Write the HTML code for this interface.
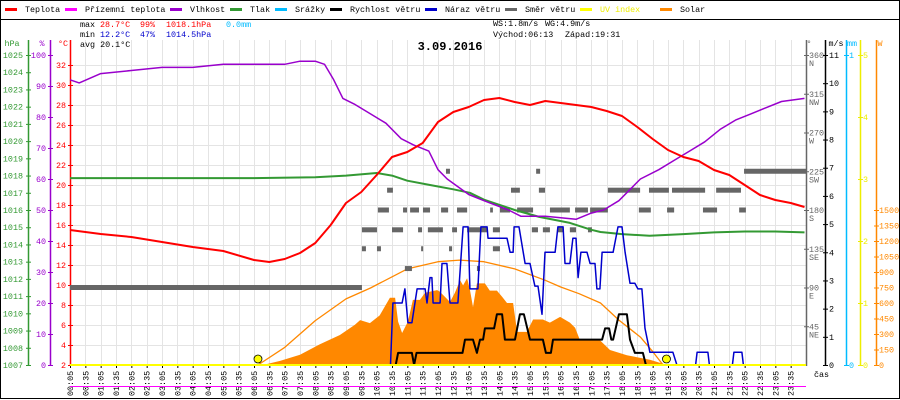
<!DOCTYPE html>
<html><head><meta charset="utf-8"><style>
html,body{margin:0;padding:0;background:#fff;}
svg{display:block;font-family:"Liberation Mono",monospace;font-size:8.4px;}
</style></head><body>
<svg id="chart" width="900" height="400" viewBox="0 0 900 400" xmlns="http://www.w3.org/2000/svg"></svg>
<script>
const tempT=[0,1,2,3,4,5,6,6.5,7,7.5,8,8.5,9,9.5,10,10.5,11,11.5,12,12.5,13,13.5,14,14.5,15,15.5,16,16.5,17,17.5,18,18.5,19,19.5,20,20.5,21,21.5,22,22.5,23,23.5,23.95];
const tempV=[15.5,15.1,14.8,14.3,13.8,13.4,12.5,12.3,12.6,13.2,14.2,16,18.2,19.3,21,22.8,23.3,24.2,26.3,27.3,27.8,28.5,28.7,28.3,28.0,28.4,28.2,28.0,27.8,27.4,26.9,25.8,24.6,23.5,22.8,22.4,21.5,21.0,20.0,19.0,18.5,18.2,17.8];
const humT=[0,0.3,1,2,3,4,5,6,7,7.5,8,8.3,8.6,8.9,9.3,9.8,10.3,10.8,11.2,11.7,12.0,12.3,13.0,13.5,14.3,14.7,15.5,16.5,17,17.4,17.9,18.3,18.6,19.2,19.7,20.2,20.7,21.2,21.7,22.2,22.7,23.2,23.95];
const humV=[92,91,94,95,96,96,97,97,97,98,98,97,92,86,84,81,78,73,71,69,63,60,55,53,50,48,48,47,49,50,53,57,60,63,66,69,72,76,79,81,83,85,86];
const presT=[0,2,4,6,8,9,10,10.5,11,11.74,12.5,13.04,13.5,14,14.5,15.3,16.3,17,17.3,18,18.9,20,21,22,23,23.95];
const presV=[1017.85,1017.85,1017.85,1017.85,1017.9,1018.0,1018.15,1018.0,1017.7,1017.45,1017.2,1017.0,1016.6,1016.3,1016.0,1015.6,1015.25,1014.85,1014.72,1014.6,1014.5,1014.6,1014.7,1014.75,1014.75,1014.7];
const gustPts=[[0,0],[10.45,0],[10.53,2.2],[10.83,2.2],[10.92,2.7],[11.02,1.5],[11.15,1.5],[11.32,2.7],[11.58,2.7],[11.64,2.2],[11.74,3.1],[11.80,3.1],[11.84,2.2],[12.07,2.2],[12.13,3.6],[12.29,3.6],[12.39,2.2],[12.65,2.2],[12.82,4.9],[12.98,4.9],[13.04,2.7],[13.30,2.7],[13.40,4.9],[13.60,4.9],[13.63,4.5],[14.25,4.5],[14.35,4.0],[14.45,4.0],[14.48,4.9],[14.64,4.9],[14.84,3.6],[15.00,3.6],[15.16,2.8],[15.26,2.8],[15.39,1.8],[15.49,4.0],[15.82,4.0],[15.91,4.9],[16.08,4.9],[16.14,3.6],[16.30,3.6],[16.40,4.5],[16.50,4.5],[16.57,3.1],[16.66,4.0],[16.86,4.0],[16.96,3.6],[17.12,3.6],[17.18,2.7],[17.28,2.7],[17.35,4.0],[17.71,4.0],[17.87,4.9],[18.00,4.9],[18.10,4.0],[18.26,2.9],[18.42,2.9],[18.52,2.7],[18.65,2.7],[18.75,1.3],[18.91,0.45],[19.66,0.45],[19.79,0],[20.40,0],[20.45,0.45],[20.80,0.45],[20.85,0],[21.60,0],[21.65,0.45],[21.91,0.45],[21.96,0],[23.92,0]];
const windPts=[[0,0],[10.62,0],[10.70,0.43],[11.15,0.43],[11.22,0],[11.30,0.43],[12.80,0.43],[12.88,0.9],[13.14,0.9],[13.27,0.43],[13.37,0.9],[13.47,0.9],[13.53,1.3],[13.83,1.3],[13.92,1.8],[14.09,1.8],[14.18,0.9],[14.51,0.9],[14.67,1.8],[14.80,1.8],[15.0,0.9],[15.42,0.9],[15.52,0.43],[15.68,0.43],[15.75,0.9],[17.35,0.9],[17.45,1.3],[17.58,1.3],[17.65,0.9],[17.71,0.9],[17.90,1.8],[18.16,1.8],[18.26,0.9],[18.42,0.43],[18.68,0.43],[18.78,0],[23.92,0]];
const solarPts=[[6.29,0],[6.85,40],[7.5,100],[8.15,200],[8.8,290],[9.29,390],[9.46,435],[9.78,405],[10.1,480],[10.43,650],[10.6,650],[10.7,420],[10.83,310],[11.02,420],[11.18,630],[11.41,630],[11.58,700],[11.97,725],[12.06,710],[12.39,610],[12.55,700],[12.72,820],[12.82,770],[12.95,840],[13.04,730],[13.14,560],[13.27,790],[13.53,790],[13.69,720],[13.92,720],[14.09,660],[14.25,600],[14.45,600],[14.58,320],[14.90,320],[15.10,440],[15.42,440],[15.65,410],[15.98,465],[16.30,410],[16.47,360],[16.63,240],[17.28,240],[17.61,145],[18.16,95],[18.91,50],[19.47,0]];
const clearPts=[[6.13,0],[7,170],[8,430],[9,640],[9.8,745],[11,930],[12,1000],[12.7,1015],[13.5,1000],[14.5,930],[15.5,820],[16,755],[16.6,690],[17.3,600],[17.9,435],[18.6,270],[19.0,130],[19.34,0]];
const dirStart=[0,10.04,10.86,11.09,11.51,12.10,12.62,13.70,14.02,14.58,15.65,16.47,16.96,18.55,19.47,20.64,21.82, 9.52,10.50,11.35,11.67,12.46,12.95,13.79,15.06,15.42,15.91,16.30,16.89, 9.52,10.01,11.45,12.36,13.79, 10.34,14.38,15.29,17.54,18.88,19.63,21.07, 10.92,13.27, 12.26,15.20,21.98];
const dirEnd=[9.52,10.40,10.99,11.38,11.74,12.33,12.95,13.79,14.35,15.10,16.30,16.89,17.54,18.94,19.70,21.10,22.04, 10.01,10.86,11.48,12.16,12.62,13.60,14.02,15.26,15.65,16.08,16.50,17.02, 9.65,10.14,11.51,12.46,14.02, 10.53,14.67,15.49,18.59,19.53,20.71,21.88, 11.15,13.37, 12.39,15.33,24];
const dirDeg=[90,180,180,180,180,180,180,180,180,180,180,180,180,180,180,180,180, 157,157,157,157,157,157,157,157,157,157,157,157, 135,135,135,135,135, 203,203,203,203,203,203,203, 112,112, 225,225,225];
const sunEvents=[6.13,19.45];
const tempTicks=[2,4,6,8,10,12,14,16,18,20,22,24,26,28,30,32];
const humTicks=[0,10,20,30,40,50,60,70,80,90,100];
const presTicks=[1007,1008,1009,1010,1011,1012,1013,1014,1015,1016,1017,1018,1019,1020,1021,1022,1023,1024,1025];
const windTicks=[0,1,2,3,4,5,6,7,8,9,10,11];
const dirTicks=[45,90,135,180,225,270,315,360];
const dirNames=["NE","E","SE","S","SW","W","NW","N"];
const uvTicks=[0,1,2,3,4,5];
const solarTicks=[0,150,300,450,600,750,900,1050,1200,1350,1500];

const NS="http://www.w3.org/2000/svg";
const svg=document.getElementById('chart');
const X0=70,X1=806,Y0=365;
const x=t=>X0+t*(X1-X0)/24;
const yT=v=>Y0-(v-2)*10;
const yH=v=>Y0-v*3.1;
const yP=v=>Y0-(v-1007)*310/18;
const yW=v=>Y0-v*310/11;
const yD=v=>Y0-v*310/360;
const yS=v=>Y0-v*155/1500;
const yU=v=>Y0-v*62;
function mk(tag,attrs,parent){const e=document.createElementNS(NS,tag);for(const k in attrs)e.setAttribute(k,attrs[k]);(parent||svg).appendChild(e);return e;}
function txt(s,px,py,fill,anchor,parent){const e=mk('text',{x:px,y:py,fill:fill,'text-anchor':anchor||'start'},parent);e.textContent=s;return e;}

let e=mk('rect',{x:0.5,y:0.5,width:899,height:398,fill:'none',stroke:'#000'});


e=mk('line',{x1:0,y1:19.5,x2:900,y2:19.5,stroke:'#000'});



const grid=mk('g',{stroke:'#e4e4e4','stroke-width':1});


for(let i=1;i<48;i++){const gx=Math.round(X0+i*(X1-X0)/48)+0.5;mk('line',{x1:gx,y1:40,x2:gx,y2:Y0},grid);}
for(const v of tempTicks){if(v===2)continue;const gy=yT(v)+0.5;mk('line',{x1:X0,y1:gy,x2:X1,y2:gy},grid);}

const legItems=[["Teplota","#f00",25],["Přízemní teplota","#f0f",85],["Vlhkost","#90c",190],["Tlak","#393",250],["Srážky","#0bf",295],["Rychlost větru","#000",350],["Náraz větru","#00c",445],["Směr větru","#666",525],["UV index","#ff0",600],["Solar","#f80",680]];
for(const it of legItems){
 const g=mk('g',{});
 
 
 mk('rect',{x:it[2]-20,y:8,width:12,height:3,fill:it[1]},g);
 txt(it[0],it[2],12,it[0]==="UV index"?"#ee0":"#000",'start',g);
}
const st=mk('g',{});


txt('max',80,27,'#000','start',st);txt('28.7°C',100,27,'#f00','start',st);txt('99%',140,27,'#f00','start',st);txt('1018.1hPa',166,27,'#f00','start',st);txt('0.0mm',226,27,'#0bf','start',st);
txt('min',80,37,'#000','start',st);txt('12.2°C',100,37,'#00c','start',st);txt('47%',140,37,'#00c','start',st);txt('1014.5hPa',166,37,'#00c','start',st);
txt('avg 20.1°C',80,47,'#000','start',st);
const wst=mk('g',{});


txt('WS:1.8m/s',493,26,'#000','start',wst);txt('WG:4.9m/s',545,26,'#000','start',wst);
txt('Východ:06:13',493,37,'#000','start',wst);txt('Západ:19:31',565,37,'#000','start',wst);
e=txt('3.09.2016',450,50,'#000','middle');
e.setAttribute('font-weight','bold');e.setAttribute('font-size','12');



function axis(name,ax,color,ticks,yf,labelX,anchor,head,headX){
 const g=mk('g',{fill:color});
 
 
 mk('line',{x1:ax+0.5,y1:40,x2:ax+0.5,y2:Y0+1,stroke:color,'stroke-width':1.5},g);
 for(const v of ticks){const ty=yf(v);mk('line',{x1:ax-2,y1:ty+0.5,x2:ax+3,y2:ty+0.5,stroke:color},g);txt(String(v),labelX,ty+3,color,anchor,g);}
 txt(head,headX,46,color,'middle',g);
 return g;
}
axis('pressure-axis',28,'#393',presTicks,yP,23,'end','hPa',12);
axis('humidity-axis',50,'#90c',humTicks,yH,46,'end','%',42);
axis('temperature-axis',70,'#f00',tempTicks,yT,66,'end','°C',63);
const dg=axis('direction-axis',806,'#666',dirTicks,yD,809,'start','°',809);
dirTicks.forEach((v,i)=>{txt(dirNames[i],809,yD(v)+11,'#666','start',dg);});
axis('wind-speed-axis',825,'#000',windTicks,yW,829,'start','m/s',836);
axis('rain-axis',846,'#0bf',[0,1],v=>Y0-v*310,849,'start','mm',852);
axis('uv-axis',860,'#ee0',uvTicks,yU,863,'start','',862);
axis('solar-axis',876,'#f80',solarTicks,yS,879,'start','W',880);
e=txt('čas',814,377,'#000','start');



const xl=mk('g',{});


for(let i=0;i<48;i++){
 const h=Math.floor((i*30+5)/60),m=(i*30+5)%60;
 const lbl=String(h).padStart(2,'0')+':'+String(m).padStart(2,'0');
 const lx=X0+i*(X1-X0)/48;
 mk('line',{x1:lx+0.5,y1:Y0,x2:lx+0.5,y2:Y0+3,stroke:'#000'},xl);
 const t=txt(lbl,0,0,'#000','start',xl);
 t.setAttribute('transform','translate('+(lx+3)+',396) rotate(-90)');
}
e=mk('line',{x1:X0,y1:386.5,x2:X1,y2:386.5,stroke:'#f0f','stroke-width':1});



let d='M'+x(solarPts[0][0])+','+Y0;
for(const p of solarPts)d+=' L'+x(p[0]).toFixed(1)+','+yS(p[1]).toFixed(1);
d+=' L'+x(solarPts[solarPts.length-1][0])+','+Y0+' Z';
e=mk('path',{d:d,fill:'#f80'});


function poly(pts,color,w){return mk('polyline',{points:pts.map(p=>p[0].toFixed(1)+','+p[1].toFixed(1)).join(' '),fill:'none',stroke:color,'stroke-width':w,'stroke-linejoin':'round'});}
e=poly(clearPts.map(p=>[x(p[0]),yS(p[1])]),'#f80',1.3);


const dd=mk('g',{fill:'#666'});


for(let i=0;i<dirDeg.length;i++){mk('rect',{x:x(dirStart[i]),y:yD(dirDeg[i])-2.5,width:Math.max(2,x(dirEnd[i])-x(dirStart[i])),height:5},dd);}
e=poly(presT.map((t,i)=>[x(t),yP(presV[i])]),'#393',2);


e=poly(humT.map((t,i)=>[x(t),yH(humV[i])]),'#90c',1.5);


e=poly(tempT.map((t,i)=>[x(t),yT(tempV[i])]),'#f00',2);


e=poly(gustPts.map(p=>[x(p[0]),yW(p[1])]),'#00c',1.5);


e=poly(windPts.map(p=>[x(p[0]),yW(p[1])]),'#000',2);


e=mk('line',{x1:X0,y1:Y0,x2:X1,y2:Y0,stroke:'#ff0','stroke-width':2});


for(const s of sunEvents){
 e=mk('circle',{cx:x(s),cy:359,r:4,fill:'#ff0',stroke:'#000','stroke-width':0.8});
 
 
}
</script>
</body></html>
